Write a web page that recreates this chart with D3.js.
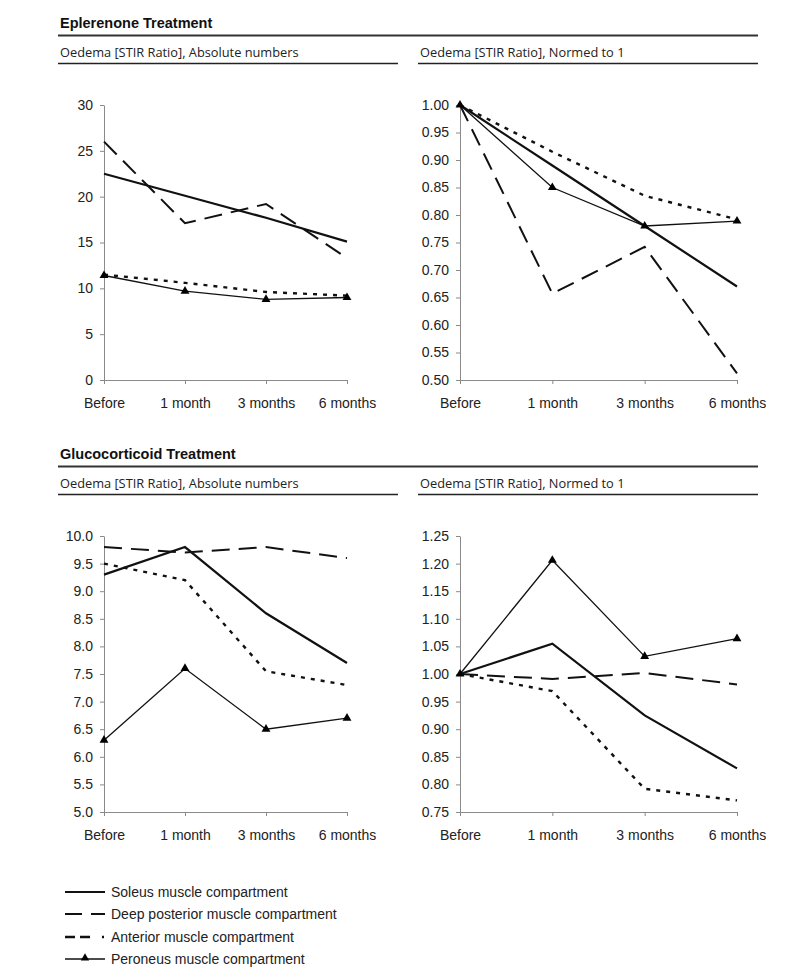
<!DOCTYPE html>
<html><head><meta charset="utf-8">
<script src="https://cdn.jsdelivr.net/npm/d3@7"></script>
<style>body{margin:0;background:#fff} svg{display:block}</style>
</head><body><svg id="c" width="787" height="980"></svg>
<script>
// ---------- DATA ----------
const timepoints = ["Before", "1 month", "3 months", "6 months"];
const seriesNames = ["Soleus muscle compartment", "Deep posterior muscle compartment", "Anterior muscle compartment", "Peroneus muscle compartment"];

// Eplerenone, absolute numbers
const eplAbsSoleus   = [22.5, 20.1, 17.7, 15.1];
const eplAbsDeep     = [26.0, 17.1, 19.2, 13.3];
const eplAbsAnterior = [11.5, 10.6, 9.6, 9.2];
const eplAbsPeroneus = [11.4, 9.7, 8.8, 9.0];
// Eplerenone, normed to 1
const eplNormSoleus   = [1.00, 0.89, 0.78, 0.67];
const eplNormDeep     = [1.00, 0.657, 0.742, 0.512];
const eplNormAnterior = [1.00, 0.915, 0.835, 0.792];
const eplNormPeroneus = [1.00, 0.85, 0.78, 0.789];
// Glucocorticoid, absolute numbers
const gcAbsSoleus   = [9.3, 9.8, 8.6, 7.7];
const gcAbsDeep     = [9.8, 9.7, 9.8, 9.6];
const gcAbsAnterior = [9.5, 9.2, 7.55, 7.3];
const gcAbsPeroneus = [6.3, 7.6, 6.5, 6.7];
// Glucocorticoid, normed to 1
const gcNormSoleus   = [1.00, 1.055, 0.925, 0.829];
const gcNormDeep     = [1.00, 0.991, 1.002, 0.981];
const gcNormAnterior = [1.00, 0.969, 0.792, 0.771];
const gcNormPeroneus = [1.00, 1.206, 1.032, 1.064];

// tick labels
const ticksEplAbs  = [0, 5, 10, 15, 20, 25, 30];
const ticksEplNorm = [0.50, 0.55, 0.60, 0.65, 0.70, 0.75, 0.80, 0.85, 0.90, 0.95, 1.00];
const ticksGcAbs   = [5.0, 5.5, 6.0, 6.5, 7.0, 7.5, 8.0, 8.5, 9.0, 9.5, 10.0];
const ticksGcNorm  = [0.75, 0.80, 0.85, 0.90, 0.95, 1.00, 1.05, 1.10, 1.15, 1.20, 1.25];

const sectionTitles = ["Eplerenone Treatment", "Glucocorticoid Treatment"];
const panelTitles = ["Oedema [STIR Ratio], Absolute numbers", "Oedema [STIR Ratio], Normed to 1"];

// ---------- STYLE ----------
const seriesStyle = [
  {width: 2.2, dash: null, lineDash: null, marker: false},
  {width: 2.0, dash: "18,9", lineDash: "17,9", marker: false},
  {width: 2.4, dash: "4,6", lineDash: "10,5,10,12,2,100", marker: false},
  {width: 1.3, dash: null, lineDash: null, marker: true}
];

const svg = d3.select("#c");
const FONT = "'Liberation Sans', Arial, sans-serif";
const SUBFONT = "'Open Sans', 'Noto Sans', sans-serif";

function section(top, title) {
  svg.append("text").attr("x", 60).attr("y", top + 27.5)
    .attr("font-family", FONT).attr("font-weight", "bold").attr("font-size", 14.5)
    .attr("fill", "#111").text(title);
  svg.append("line").attr("x1", 58).attr("x2", 758).attr("y1", top + 35.5).attr("y2", top + 35.5)
    .attr("stroke", "#333").attr("stroke-width", 2);
  [[60, 58, 398, panelTitles[0]], [420, 418, 758, panelTitles[1]]].forEach(([tx, l1, l2, t]) => {
    svg.append("text").attr("x", tx).attr("y", top + 57)
      .attr("font-family", SUBFONT).attr("font-size", 12.8).attr("fill", "#222").text(t);
    svg.append("line").attr("x1", l1).attr("x2", l2).attr("y1", top + 63.5).attr("y2", top + 63.5)
      .attr("stroke", "#222").attr("stroke-width", 1.6);
  });
}

function panel(x0, x1, yTop, yBot, ticks, fmt, series) {
  const x = d3.scalePoint().domain(timepoints).range([x0, x1]);
  const y = d3.scaleLinear().domain([ticks[0], ticks[ticks.length - 1]]).range([yBot, yTop]);
  const g = svg.append("g");

  const ya = g.append("g").attr("transform", `translate(${x0},0)`)
    .call(d3.axisLeft(y).tickValues(ticks).tickFormat(d3.format(fmt)).tickSize(4).tickSizeOuter(0).tickPadding(7));
  const xa = g.append("g").attr("transform", `translate(0,${yBot})`)
    .call(d3.axisBottom(x).tickSize(4).tickSizeOuter(0).tickPadding(14));
  [ya, xa].forEach(a => {
    a.selectAll("path,line").attr("stroke", "#8a8a8a").attr("stroke-width", 1);
    a.selectAll("text").attr("font-family", FONT).attr("font-size", 14).attr("fill", "#222");
  });

  const line = d3.line().x((d, i) => x(timepoints[i])).y(d => y(d));
  series.forEach((vals, si) => {
    const st = seriesStyle[si];
    g.append("path").datum(vals).attr("d", line)
      .attr("fill", "none").attr("stroke", "#111").attr("stroke-width", st.width)
      .attr("stroke-dasharray", st.dash).attr("stroke-linejoin", "miter");
  });
  series.forEach((vals, si) => {
    if (!seriesStyle[si].marker) return;
    g.selectAll(null).data(vals).enter().append("path")
      .attr("d", d3.symbol().type(d3.symbolTriangle).size(34))
      .attr("transform", (d, i) => `translate(${x(timepoints[i])},${y(d)})`)
      .attr("fill", "#000");
  });
}

section(0, sectionTitles[0]);
section(431, sectionTitles[1]);

panel(104, 347, 105, 380, ticksEplAbs, "d", [eplAbsSoleus, eplAbsDeep, eplAbsAnterior, eplAbsPeroneus]);
panel(460, 737, 105, 380, ticksEplNorm, ".2f", [eplNormSoleus, eplNormDeep, eplNormAnterior, eplNormPeroneus]);
panel(104, 347, 536, 812, ticksGcAbs, ".1f", [gcAbsSoleus, gcAbsDeep, gcAbsAnterior, gcAbsPeroneus]);
panel(460, 737, 536, 812, ticksGcNorm, ".2f", [gcNormSoleus, gcNormDeep, gcNormAnterior, gcNormPeroneus]);

// ---------- LEGEND ----------
const legY = [892, 914, 937, 959];
const leg = svg.append("g");
seriesNames.forEach((name, i) => {
  const st = seriesStyle[i];
  const yy = legY[i];
  leg.append("line").attr("x1", 65).attr("x2", 105).attr("y1", yy).attr("y2", yy)
    .attr("stroke", "#111").attr("stroke-width", i === 3 ? 1.6 : st.width)
    .attr("stroke-dasharray", st.lineDash);
  if (st.marker) {
    leg.append("path").attr("d", d3.symbol().type(d3.symbolTriangle).size(30))
      .attr("transform", `translate(85,${yy - 1})`).attr("fill", "#000");
  }
  leg.append("text").attr("x", 111).attr("y", yy + 5)
    .attr("font-family", FONT).attr("font-size", 14).attr("fill", "#222").text(name);
});
</script>
</body></html>
